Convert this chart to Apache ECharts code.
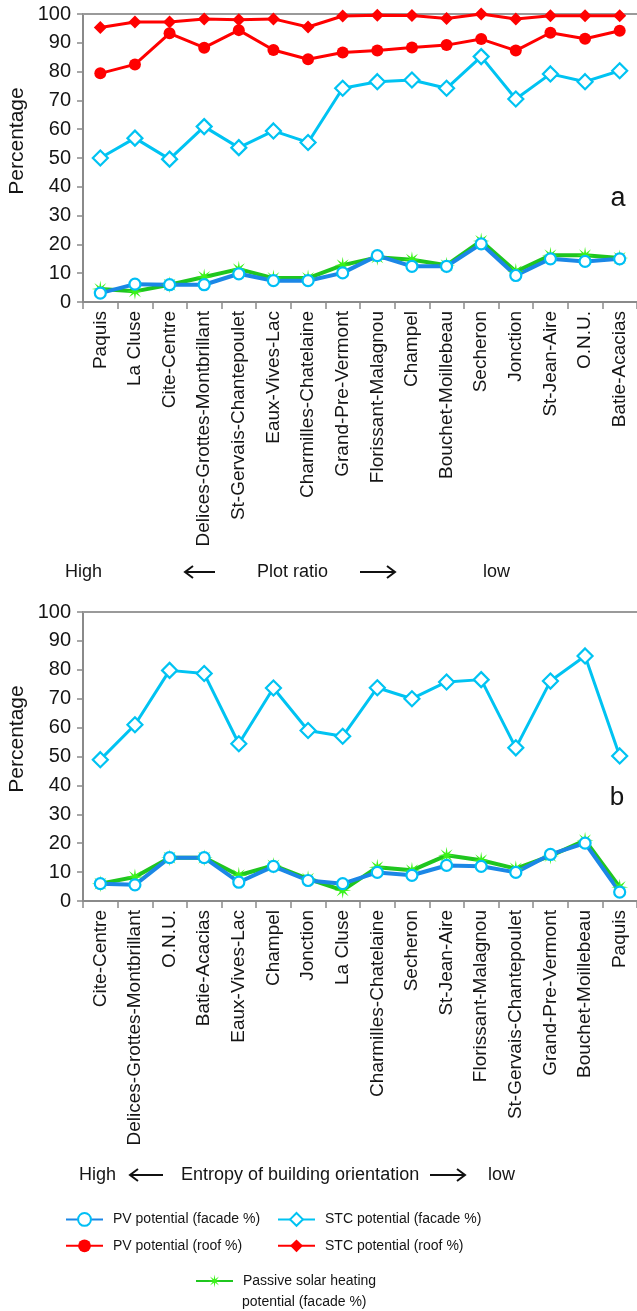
<!DOCTYPE html>
<html><head><meta charset="utf-8">
<script src="https://cdn.jsdelivr.net/npm/echarts@6/dist/echarts.min.js"></script>
<style>html,body{margin:0;padding:0;background:#fff}#c{width:637px;height:1311px}</style>
</head><body><div id="c"></div>
<script>
// ---- Panel a (ordered by plot ratio) ----
const catsA = ['Paquis','La Cluse','Cite-Centre','Delices-Grottes-Montbrillant','St-Gervais-Chantepoulet','Eaux-Vives-Lac','Charmilles-Chatelaine','Grand-Pre-Vermont','Florissant-Malagnou','Champel','Bouchet-Moillebeau','Secheron','Jonction','St-Jean-Aire','O.N.U.','Batie-Acacias'];
const stcRoofA    = [95.3, 97.2, 97.2, 98.3, 98.0, 98.3, 95.5, 99.3, 99.6, 99.5, 98.4, 100, 98.3, 99.4, 99.4, 99.4];
const pvRoofA     = [79.4, 82.5, 93.3, 88.3, 94.4, 87.5, 84.3, 86.6, 87.3, 88.4, 89.2, 91.3, 87.3, 93.5, 91.4, 94.2];
const stcFacadeA  = [50.0, 56.9, 49.6, 60.9, 53.6, 59.4, 55.4, 74.2, 76.5, 77.1, 74.2, 85.2, 70.5, 79.2, 76.5, 80.3];
const pvFacadeA   = [3.1, 6.2, 6.0, 6.0, 9.8, 7.4, 7.4, 10.1, 16.1, 12.4, 12.4, 20.2, 9.2, 15.0, 14.1, 15.0];
const passiveA    = [4.5, 3.7, 6.0, 8.7, 11.4, 8.3, 8.3, 12.8, 15.5, 14.7, 12.8, 21.2, 10.6, 16.2, 16.2, 15.3];

// ---- Panel b (ordered by entropy of building orientation) ----
const catsB = ['Cite-Centre','Delices-Grottes-Montbrillant','O.N.U.','Batie-Acacias','Eaux-Vives-Lac','Champel','Jonction','La Cluse','Charmilles-Chatelaine','Secheron','St-Jean-Aire','Florissant-Malagnou','St-Gervais-Chantepoulet','Grand-Pre-Vermont','Bouchet-Moillebeau','Paquis'];
const stcFacadeB  = [48.9, 61.0, 79.8, 78.7, 54.4, 73.7, 59.0, 57.0, 73.8, 70.0, 75.8, 76.6, 53.0, 76.1, 84.8, 50.2];
const pvFacadeB   = [6.0, 5.6, 15.0, 15.0, 6.5, 12.0, 7.1, 6.0, 9.9, 8.9, 12.3, 12.0, 9.9, 16.1, 20.0, 3.1];
const passiveB    = [6.0, 8.3, 15.0, 15.0, 8.9, 12.3, 7.7, 3.7, 11.7, 10.6, 15.8, 14.1, 11.2, 15.6, 21.0, 4.8];

const yTicks = {min: 0, max: 100, interval: 10};

const N_PVF = 'PV potential (facade %)';
const N_STCF = 'STC potential (facade %)';
const N_PVR = 'PV potential (roof %)';
const N_STCR = 'STC potential (roof %)';
const N_PAS = 'Passive solar heating potential (facade %)';
const PAS_LINE1 = 'Passive solar heating';
const PAS_LINE2 = 'potential (facade %)';

const FONT = '"Liberation Sans", Arial, Helvetica, sans-serif';
const TXT = '#151515';
const AX = '#8a8a8a';

function starPath() {
  const pts = []; const n = 8, R = 10, r = 3.0;
  for (let i = 0; i < 2 * n; i++) {
    const a = Math.PI * i / n - Math.PI / 2;
    const rad = i % 2 === 0 ? R : r;
    pts.push((rad * Math.cos(a)).toFixed(2) + ' ' + (rad * Math.sin(a)).toFixed(2));
  }
  return 'path://M' + pts.join(' L') + ' Z';
}
const STAR = starPath();

const styles = {};
styles[N_PAS] = {symbol: STAR, symbolSize: 17, itemStyle: {color: '#3cf21a'}, lineStyle: {color: '#1fc61f', width: 4}};
styles[N_PVF] = {symbol: 'circle', symbolSize: 11, itemStyle: {color: '#fff', borderColor: '#00bff5', borderWidth: 2.2}, lineStyle: {color: '#1b87e6', width: 4}};
styles[N_STCF] = {symbol: 'diamond', symbolSize: 15, itemStyle: {color: '#fff', borderColor: '#00c3f2', borderWidth: 2.2}, lineStyle: {color: '#00c3f2', width: 3}};
styles[N_PVR] = {symbol: 'circle', symbolSize: 12, itemStyle: {color: '#ff0000'}, lineStyle: {color: '#ff0000', width: 3}};
styles[N_STCR] = {symbol: 'diamond', symbolSize: 13, itemStyle: {color: '#ff0000'}, lineStyle: {color: '#ff0000', width: 3}};

function ser(name, data, xi, yi) {
  return Object.assign({type: 'line', name: name, data: data, xAxisIndex: xi, yAxisIndex: yi,
    showAllSymbol: true, animation: false, emphasis: {disabled: true}}, JSON.parse(JSON.stringify(styles[name])), {symbol: styles[name].symbol});
}

function xBottom(gi, cats) {
  return {gridIndex: gi, type: 'category', data: cats, boundaryGap: true, position: 'bottom',
    axisLine: {show: true, lineStyle: {color: AX, width: 2}},
    axisTick: {show: true, length: 7, alignWithLabel: false, lineStyle: {color: AX, width: 1.5}},
    axisLabel: {rotate: 90, interval: 0, margin: 9, fontSize: 19, color: TXT, fontFamily: FONT},
    splitLine: {show: false}};
}
function xTop(gi, cats) {
  return {gridIndex: gi, type: 'category', data: cats, position: 'top', boundaryGap: true,
    axisLine: {show: true, lineStyle: {color: '#9a9a9a', width: 2}},
    axisTick: {show: false}, axisLabel: {show: false}, splitLine: {show: false}};
}
function yAx(gi) {
  return {gridIndex: gi, type: 'value', min: yTicks.min, max: yTicks.max, interval: yTicks.interval,
    axisLine: {show: true, lineStyle: {color: AX, width: 2}},
    axisTick: {show: true, length: 6, lineStyle: {color: AX, width: 1.5}},
    axisLabel: {margin: 12, fontSize: 20, color: TXT, fontFamily: FONT},
    splitLine: {show: false}};
}

function arrow(x1, x2, y, headLeft) {
  const hx = headLeft ? x1 : x2, d = headLeft ? 8 : -8;
  return [
    {type: 'line', shape: {x1: x1, y1: y, x2: x2, y2: y}, style: {stroke: '#111', lineWidth: 2}},
    {type: 'polyline', shape: {points: [[hx + d, y - 6], [hx, y], [hx + d, y + 6]]}, style: {stroke: '#111', lineWidth: 2, fill: null}}
  ];
}
function txt(t, x, y, size, align, extra) {
  return Object.assign({type: 'text', x: x, y: y, style: {text: t, fontSize: size, fontFamily: FONT, fill: TXT, align: align || 'left', verticalAlign: 'middle'}}, extra || {});
}

const chart = echarts.init(document.getElementById('c'), null, {renderer: 'canvas'});
const legendBase = {orient: 'vertical', itemWidth: 37, itemHeight: 16, itemGap: 12, padding: 0,
  selectedMode: false, textStyle: {fontSize: 14, color: TXT, fontFamily: FONT, padding: [0, 0, 0, 5]}};

chart.setOption({
  backgroundColor: '#fff',
  animation: false,
  grid: [
    {left: 83, top: 14, width: 558, height: 288, containLabel: false},
    {left: 83, top: 612, width: 558, height: 289, containLabel: false}
  ],
  xAxis: [xBottom(0, catsA), xTop(0, catsA), xBottom(1, catsB), xTop(1, catsB)],
  yAxis: [yAx(0), yAx(1)],
  legend: [
    Object.assign({}, legendBase, {left: 65, top: 1212, data: [N_PVF, N_PVR]}),
    Object.assign({}, legendBase, {left: 277, top: 1212, data: [N_STCF, N_STCR]}),
    Object.assign({}, legendBase, {left: 195, top: 1274, data: [N_PAS],
      formatter: function () { return PAS_LINE1; }})
  ],
  series: [
    ser(N_PAS, passiveA, 0, 0),
    ser(N_PVF, pvFacadeA, 0, 0),
    ser(N_STCF, stcFacadeA, 0, 0),
    ser(N_PVR, pvRoofA, 0, 0),
    ser(N_STCR, stcRoofA, 0, 0),
    ser(N_PAS, passiveB, 2, 1),
    ser(N_PVF, pvFacadeB, 2, 1),
    ser(N_STCF, stcFacadeB, 2, 1)
  ],
  graphic: [].concat(
    [txt('Percentage', 17, 141, 21, 'center', {rotation: Math.PI / 2}),
     txt('Percentage', 17, 739, 21, 'center', {rotation: Math.PI / 2}),
     txt('a', 618, 199, 27, 'center'),
     txt('b', 617, 798, 26, 'center'),
     txt('High', 65, 572, 18),
     txt('Plot ratio', 257, 572, 18),
     txt('low', 483, 572, 18),
     txt('High', 79, 1175, 18),
     txt('Entropy of building orientation', 181, 1175, 18),
     txt('low', 488, 1175, 18),
     txt(PAS_LINE2, 242, 1302, 14)],
    arrow(185, 215, 572, true), arrow(360, 395, 572, false),
    arrow(130, 163, 1175, true), arrow(430, 465, 1175, false)
  )
});
</script></body></html>
